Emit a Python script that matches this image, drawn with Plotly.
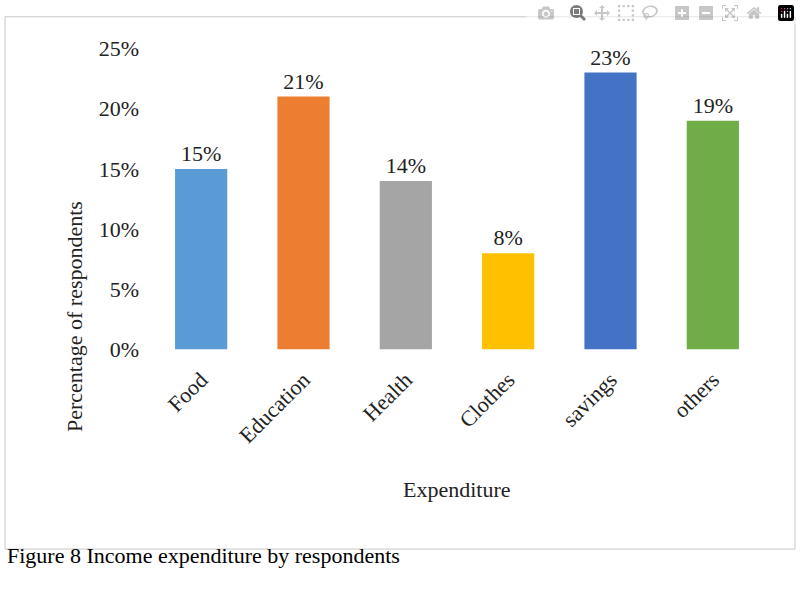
import plotly.graph_objects as go

categories = ["Food", "Education", "Health", "Clothes", "savings", "others"]
values = [15, 21, 14, 8, 23, 19]
colors = ["#5B9BD5", "#ED7D31", "#A5A5A5", "#FFC000", "#4472C4", "#70AD47"]
y_ticks = [0, 5, 10, 15, 20, 25]

W, H = 800, 610
font = dict(family="Liberation Serif", size=22, color="#222")

fig = go.Figure(go.Bar(
    x=categories, y=values,
    marker=dict(color=colors, line=dict(width=0)),
    width=0.51,
    text=[f"{v}%" for v in values],
    textposition="outside",
    textfont=font,
    cliponaxis=False,
))

fig.update_layout(
    width=W, height=H,
    margin=dict(l=0, r=0, t=0, b=0),
    paper_bgcolor="white", plot_bgcolor="white",
    showlegend=False,
    font=font,
    xaxis=dict(domain=[150 / W, 764 / W], tickangle=-45, showline=False,
               ticks="", tickfont=font, ticklabelstandoff=12),
    yaxis=dict(domain=[1 - 352 / H, 1 - 38 / H], range=[0, 25],
               tickvals=y_ticks, ticktext=[f"{t}%" for t in y_ticks],
               showgrid=False, zeroline=False, showline=False, ticks="",
               tickfont=font, ticklabelstandoff=10),
    shapes=[dict(type="rect", xref="paper", yref="paper",
                 x0=5 / W, x1=795 / W, y0=1 - 560 / H, y1=1 - 5 / H,
                 line=dict(color="#c8c8c8", width=1))],
    annotations=[
        dict(text="Expenditure", xref="paper", yref="paper",
             x=457 / W, y=1 - 513 / H, showarrow=False, font=font),
        dict(text="Percentage of respondents", xref="paper", yref="paper",
             x=60 / W, y=1 - 195 / H, textangle=-90, showarrow=False, font=font),
        dict(text="Figure 8 Income expenditure by respondents", xref="paper",
             yref="paper", x=5 / W, y=1 - 582 / H, xanchor="left",
             showarrow=False, font=dict(family="Liberation Serif", size=22, color="black")),
    ],
)

fig.write_html("out.html")
with open("out.html", encoding="utf-8") as f:
    page = f.read()
page = page.replace("<body>", '<body style="margin:0;overflow:hidden">', 1)
with open("out.html", "w", encoding="utf-8") as f:
    f.write(page)
